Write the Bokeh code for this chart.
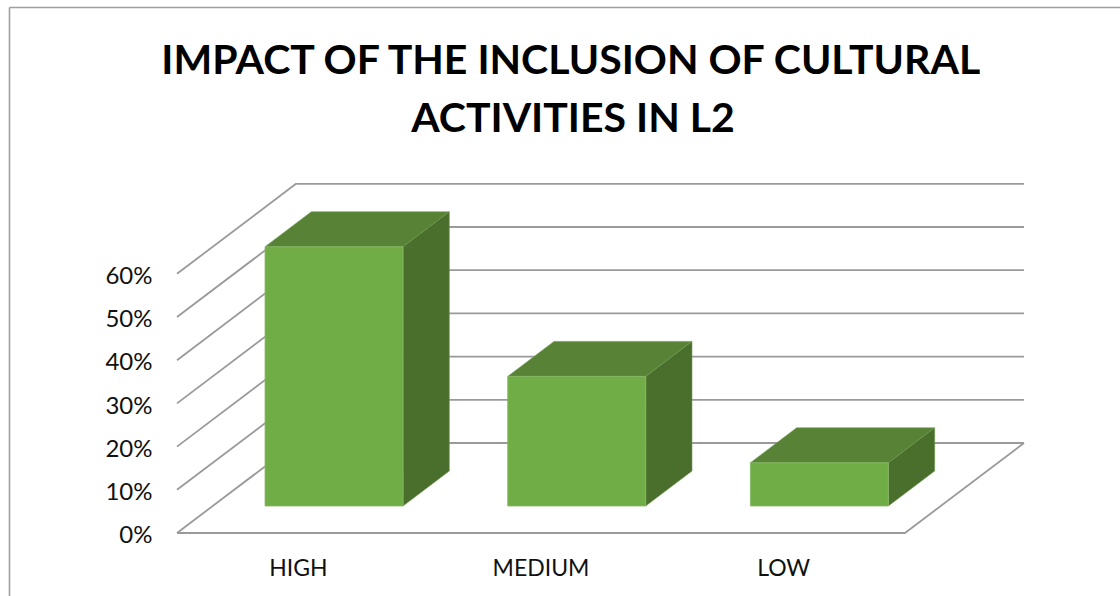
from bokeh.core.properties import value
from bokeh.embed import file_html
from bokeh.models import Range1d
from bokeh.plotting import figure
from bokeh.resources import INLINE

# Survey results and axis labels
categories = ["HIGH", "MEDIUM", "LOW"]
shares = [60, 30, 10]
grid_values = [0, 10, 20, 30, 40, 50, 60]
tick_labels = ["0%", "10%", "20%", "30%", "40%", "50%", "60%"]
title_lines = ["IMPACT OF THE INCLUSION OF CULTURAL", "ACTIVITIES IN L2"]

W, H = 1120, 596
PX_PER_CAT = 242.67
PX_PER_PCT = 4.32
ORIGIN_X, ORIGIN_Y = 176.5, 532.5

# Oblique projection: full depth shifts right by 119 px and up by 90 px
DEPTH_X = 119 / PX_PER_CAT
DEPTH_Y = 90 / PX_PER_PCT
BAR_WIDTH = 138 / PX_PER_CAT
BAR_NEAR, BAR_FAR = 0.30, 0.689

FRONT, TOP, SIDE = "#70AD47", "#588235", "#4A6E2B"
EDGE = "#86B866"
GRID = "#9A9A9A"
FONT = value("Lato")


def project(cat, pct, depth=0.0):
    return cat + depth * DEPTH_X, pct + depth * DEPTH_Y


def quad(points):
    pairs = [project(*pt) for pt in points]
    return [a for a, _ in pairs], [b for _, b in pairs]


p = figure(
    width=W, height=H, output_backend="svg", toolbar_location=None,
    x_range=Range1d(-ORIGIN_X / PX_PER_CAT, (W - ORIGIN_X) / PX_PER_CAT),
    y_range=Range1d(-(H - ORIGIN_Y) / PX_PER_PCT, ORIGIN_Y / PX_PER_PCT),
    min_border=0, outline_line_color=None,
)
p.axis.visible = False
p.grid.visible = False
p.background_fill_color = "white"

n = len(categories)


def to_x(pixel):
    return (pixel - ORIGIN_X) / PX_PER_CAT


def to_y(pixel):
    return (ORIGIN_Y - pixel) / PX_PER_PCT


# Chart frame, open towards the right and bottom
p.line([to_x(9), to_x(9)], [to_y(596), to_y(7)], line_color="#A0A0A0", line_width=1.6)
p.line([to_x(9), to_x(1120)], [to_y(7), to_y(7)], line_color="#A0A0A0", line_width=1.6)

# Wall gridlines and floor outline
for v in grid_values:
    xs, ys = quad([(0, v, 0), (0, v, 1), (n, v, 1)])
    p.line(xs, ys, line_color=GRID, line_width=1.8)
xs, ys = quad([(0, 0, 0), (n, 0, 0), (n, 0, 1)])
p.line(xs, ys, line_color=GRID, line_width=1.8)

# 3D bars: top, side and front faces
for i, share in enumerate(shares):
    a = i + 0.5 - BAR_WIDTH / 2
    b = i + 0.5 + BAR_WIDTH / 2
    xs, ys = quad([(a, share, BAR_NEAR), (b, share, BAR_NEAR), (b, share, BAR_FAR), (a, share, BAR_FAR)])
    p.patch(xs, ys, fill_color=TOP, line_color="#6E9A50", line_width=0.6)
    xs, ys = quad([(b, 0, BAR_NEAR), (b, 0, BAR_FAR), (b, share, BAR_FAR), (b, share, BAR_NEAR)])
    p.patch(xs, ys, fill_color=SIDE, line_color="#6E9A50", line_width=0.6)
    xs, ys = quad([(a, 0, BAR_NEAR), (b, 0, BAR_NEAR), (b, share, BAR_NEAR), (a, share, BAR_NEAR)])
    p.patch(xs, ys, fill_color=FRONT, line_color=EDGE, line_width=0.8)

# Value axis labels
p.text(
    x=[to_x(152)] * len(grid_values), y=[g - 0.15 for g in grid_values],
    text=tick_labels, text_font=FONT, text_font_size="24px", text_color="#111111",
    text_align="right", text_baseline="middle",
)

# Category labels
p.text(
    x=[i + 0.5 for i in range(n)], y=[to_y(566.5)] * n,
    text=categories, text_font=FONT, text_font_size="23px", text_color="#111111",
    text_align="center", text_baseline="middle",
)

# Two-line title
p.text(
    x=[to_x(572.5)] * 2, y=[to_y(57.5), to_y(115.5)], text=title_lines,
    text_font=FONT, text_font_size="41px", text_font_style="bold", text_color="#000000",
    text_align="center", text_baseline="middle",
)

open("out.html", "w").write(file_html(p, INLINE))
